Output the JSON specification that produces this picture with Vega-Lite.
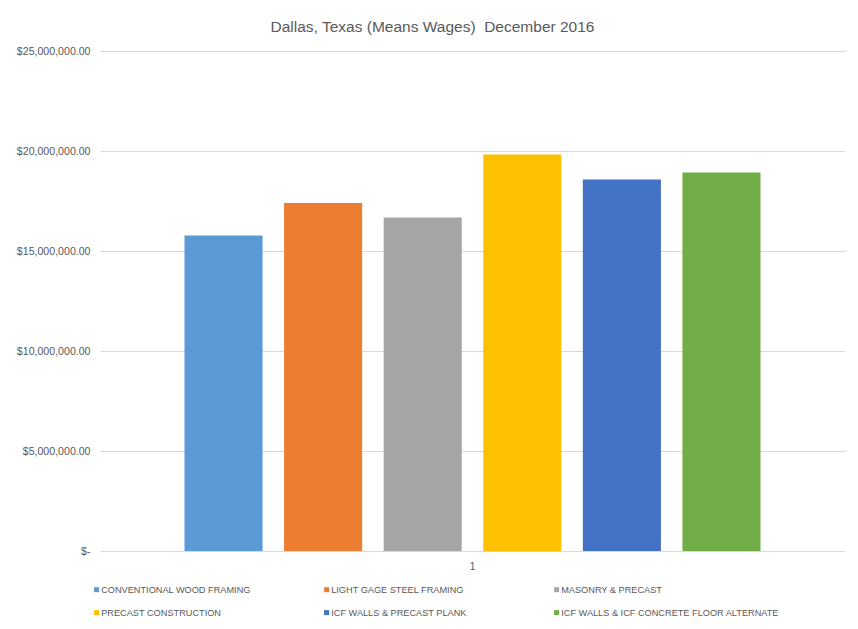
{
  "$schema": "https://vega.github.io/schema/vega-lite/v6.json",
  "width": 745,
  "height": 500,
  "autosize": {"type": "none"},
  "padding": {"left": 100, "top": 51, "right": 13, "bottom": 78},
  "background": "white",
  "title": {
    "text": "Dallas, Texas (Means Wages)\u00a0\u00a0December 2016",
    "fontSize": 15.5,
    "fontWeight": "normal",
    "font": "Liberation Sans",
    "color": "#595959",
    "anchor": "middle",
    "dx": -40,
    "offset": 11
  },
  "data": {
    "values": [
      {"cat": "1", "series": "CONVENTIONAL WOOD FRAMING", "value": 15770000},
      {"cat": "1", "series": "LIGHT GAGE STEEL FRAMING", "value": 17400000},
      {"cat": "1", "series": "MASONRY & PRECAST", "value": 16680000},
      {"cat": "1", "series": "PRECAST CONSTRUCTION", "value": 19820000},
      {"cat": "1", "series": "ICF WALLS & PRECAST PLANK", "value": 18570000},
      {"cat": "1", "series": "ICF WALLS & ICF CONCRETE FLOOR ALTERNATE", "value": 18920000}
    ]
  },
  "mark": {"type": "bar"},
  "encoding": {
    "x": {
      "field": "cat",
      "type": "nominal",
      "scale": {"paddingInner": 0, "paddingOuter": 0.1467},
      "axis": {
        "title": null,
        "labelAngle": 0,
        "domain": false,
        "ticks": false,
        "labelPadding": 10,
        "labelFontSize": 10,
        "labelColor": "#595959",
        "labelFont": "Liberation Sans"
      }
    },
    "xOffset": {
      "field": "series",
      "type": "nominal",
      "sort": null,
      "scale": {"paddingInner": 0.216, "paddingOuter": 0}
    },
    "y": {
      "field": "value",
      "type": "quantitative",
      "scale": {"domain": [0, 25000000]},
      "axis": {
        "title": null,
        "values": [0, 5000000, 10000000, 15000000, 20000000, 25000000],
        "labelExpr": "datum.value == 0 ? '$-' : format(datum.value, '$,.2f')",
        "domain": false,
        "ticks": false,
        "labelPadding": 10,
        "labelFontSize": 10.6,
        "labelColor": "#595959",
        "labelFont": "Liberation Sans",
        "gridColor": "#d9d9d9",
        "gridWidth": 1
      }
    },
    "color": {
      "field": "series",
      "type": "nominal",
      "sort": null,
      "scale": {
        "domain": [
          "CONVENTIONAL WOOD FRAMING",
          "LIGHT GAGE STEEL FRAMING",
          "MASONRY & PRECAST",
          "PRECAST CONSTRUCTION",
          "ICF WALLS & PRECAST PLANK",
          "ICF WALLS & ICF CONCRETE FLOOR ALTERNATE"
        ],
        "range": ["#5B9BD5", "#ED7D31", "#A5A5A5", "#FFC000", "#4472C4", "#70AD47"]
      },
      "legend": {
        "title": null,
        "orient": "none",
        "direction": "horizontal",
        "legendX": -8,
        "legendY": 534,
        "columns": 3,
        "gridAlign": "all",
        "columnPadding": 2,
        "rowPadding": 13,
        "symbolType": "square",
        "symbolSize": 25,
        "symbolStrokeWidth": 0,
        "labelFontSize": 9.2,
        "labelFont": "Liberation Sans",
        "labelColor": "#595959",
        "labelOffset": 0,
        "labelLimit": 300
      }
    }
  },
  "config": {
    "view": {"stroke": null}
  }
}
